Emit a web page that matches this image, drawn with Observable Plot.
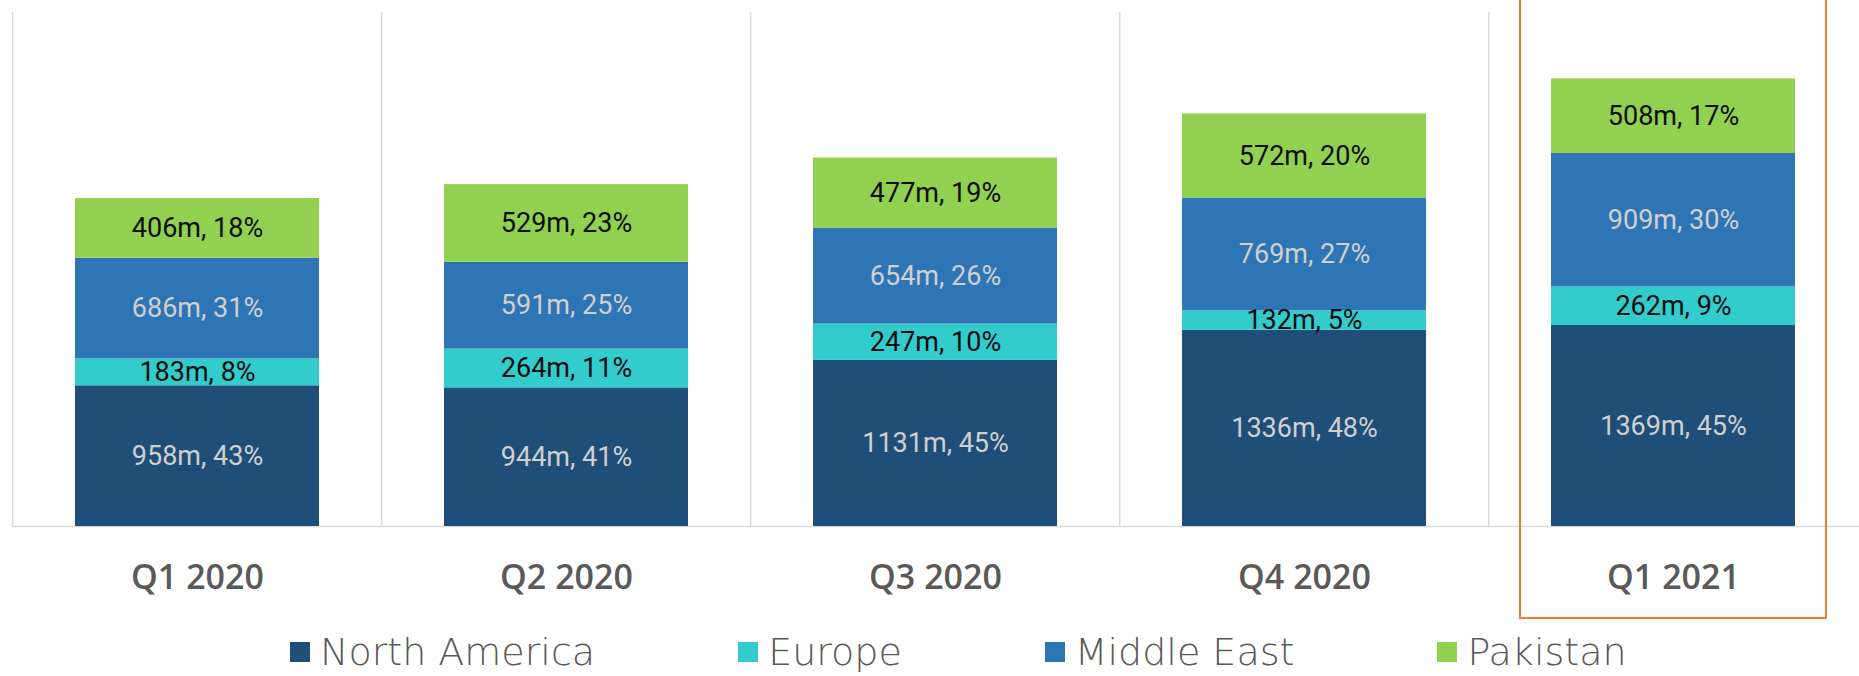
<!DOCTYPE html>
<html>
<head>
<meta charset="utf-8">
<script src="https://cdn.jsdelivr.net/npm/d3@7"></script>
<script src="https://cdn.jsdelivr.net/npm/@observablehq/plot@0.6"></script>
<style>
  html, body { margin: 0; padding: 0; background: #fff; }
  #chart svg { display: block; overflow: visible; }
  #legend { display: flex; align-items: center; height: 48px; padding-left: 290px; gap: 143px;
            font-family: "DejaVu Sans", sans-serif; font-weight: 200; font-size: 38px; color: #595959; }
  .item { display: flex; align-items: center; white-space: nowrap; }
  .sw { width: 20px; height: 20px; margin-right: 10px; }
</style>
</head>
<body>
<div id="chart"></div>
<div id="legend"></div>
<script>
const quarters = ["Q1 2020", "Q2 2020", "Q3 2020", "Q4 2020", "Q1 2021"];
const regions = ["North America", "Europe", "Middle East", "Pakistan"];
const northAmerica = [958, 944, 1131, 1336, 1369];
const europe = [183, 264, 247, 132, 262];
const middleEast = [686, 591, 654, 769, 909];
const pakistan = [406, 529, 477, 572, 508];
const pctNorthAmerica = [43, 41, 45, 48, 45];
const pctEurope = [8, 11, 10, 5, 9];
const pctMiddleEast = [31, 25, 26, 27, 30];
const pctPakistan = [18, 23, 19, 20, 17];
const barColors = ["#1f4e79", "#33cccc", "#2e75b6", "#92d050"];
const labelColors = ["#d0d0d0", "#0d0d0d", "#d0d0d0", "#0d0d0d"];
const highlighted = ["Q1 2021"];

const seriesValues = [northAmerica, europe, middleEast, pakistan];
const seriesPct = [pctNorthAmerica, pctEurope, pctMiddleEast, pctPakistan];
const rows = [];
quarters.forEach((q, qi) => {
  regions.forEach((r, ri) => {
    rows.push({
      quarter: q, region: r, value: seriesValues[ri][qi],
      label: `${seriesValues[ri][qi]}m, ${seriesPct[ri][qi]}%`,
      color: barColors[ri], textColor: labelColors[ri]
    });
  });
});

const W = 1859, H = 628, mL = 11, mR = 0;
const step = (W - mL - mR) / quarters.length;

const chart = Plot.plot({
  width: W, height: H,
  marginLeft: mL, marginRight: mR, marginTop: 12, marginBottom: 102,
  x: { domain: quarters, paddingInner: 0.338, paddingOuter: 0.169, label: null },
  y: { domain: [0, 3500], axis: null },
  color: { type: "identity" },
  style: { fontFamily: "Roboto, sans-serif", overflow: "visible", background: "white" },
  marks: [
    Plot.ruleX(quarters, { x: d => d, dx: -step / 2, stroke: "#d9d9d9", strokeWidth: 1.5 }),
    Plot.ruleY([0], { stroke: "#d9d9d9", strokeWidth: 1.5 }),
    Plot.barY(rows, { x: "quarter", y: "value", z: "region", fill: "color" }),
    Plot.text(rows, Plot.stackY({ x: "quarter", y: "value", z: "region", text: "label",
      fill: "textColor", fontSize: 27, fontFamily: "Roboto" })),
    Plot.axisX({ tickSize: 0, tickPadding: 38, fontSize: 34, fontWeight: 600,
      color: "#595959", fontFamily: "Open Sans" }),
    Plot.barY(highlighted, { x: d => d, y1: 0, y2: 3500, fill: "none", stroke: "#ed7d31",
      strokeWidth: 2, insetTop: -24, insetBottom: -92, insetLeft: -31, insetRight: -31 })
  ]
});
document.getElementById("chart").appendChild(chart);

const legend = document.getElementById("legend");
regions.forEach((r, i) => {
  const item = document.createElement("div");
  item.className = "item";
  const sw = document.createElement("span");
  sw.className = "sw";
  sw.style.background = barColors[i];
  const t = document.createElement("span");
  t.textContent = r;
  item.appendChild(sw);
  item.appendChild(t);
  legend.appendChild(item);
});
</script>
</body>
</html>
